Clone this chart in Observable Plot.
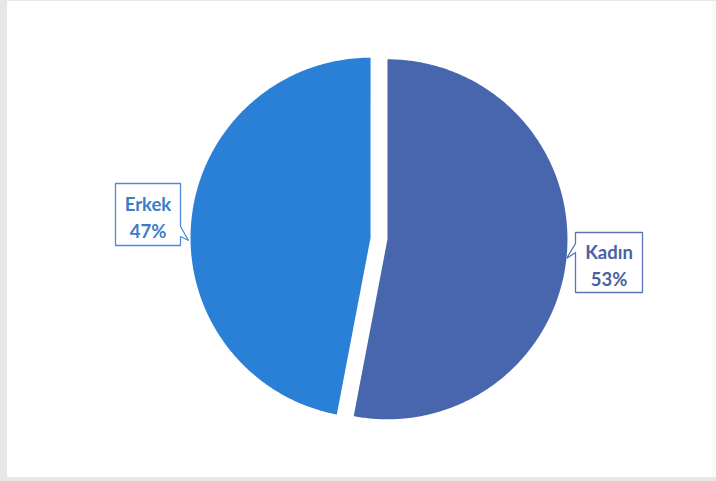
<!DOCTYPE html>
<html>
<head>
<meta charset="utf-8">
<script src="https://cdn.jsdelivr.net/npm/d3@7"></script>
<script src="https://cdn.jsdelivr.net/npm/@observablehq/plot@0.6"></script>
<style>
  html, body { margin: 0; padding: 0; background: #ffffff; }
  #chart svg { display: block; }
</style>
</head>
<body>
<div id="chart"></div>
<script>
// ---- data ----
const categories = ["Kadın", "Erkek"];
const values = [53, 47];
const percentLabels = ["53%", "47%"];
const sliceColors = ["#4866AE", "#2A7FD7"];
const textColors = ["#4A61A4", "#3A7DCB"];
const borderColors = ["#5B74B8", "#4D8BD6"];

// ---- layout ----
const W = 716, H = 481;
const cx = 378.5, cy = 238, R = 180, explode = 8.5;

const arcs = d3.pie().sort(null).value(d => d)(values);

// build slice polygons from the pie angles
const slicePts = [];
arcs.forEach((a, i) => {
  const mid = (a.startAngle + a.endAngle) / 2;
  const ox = cx + explode * Math.sin(mid);
  const oy = cy - explode * Math.cos(mid);
  slicePts.push({cat: categories[i], x: ox, y: oy});
  const n = Math.ceil((a.endAngle - a.startAngle) / (Math.PI / 360));
  for (let k = 0; k <= n; k++) {
    const t = a.startAngle + (a.endAngle - a.startAngle) * k / n;
    slicePts.push({cat: categories[i], x: ox + R * Math.sin(t), y: oy - R * Math.cos(t)});
  }
  slicePts.push({cat: categories[i], x: ox, y: oy});
});

// callout boxes (layout): [left, top, right, bottom], pointer on side
const boxes = [
  {cat: "Kadın", l: 575, t: 232, r: 642, b: 292, side: "left", p1: 243, tip: [566, 258], p2: 252},
  {cat: "Erkek", l: 115, t: 183, r: 180, b: 245, side: "right", p1: 226, tip: [188, 240], p2: 236}
];
const boxPts = [];
boxes.forEach(bx => {
  const pts = [];
  if (bx.side === "left") {
    pts.push([bx.l, bx.t], [bx.r, bx.t], [bx.r, bx.b], [bx.l, bx.b], [bx.l, bx.p2], bx.tip, [bx.l, bx.p1], [bx.l, bx.t]);
  } else {
    pts.push([bx.l, bx.t], [bx.r, bx.t], [bx.r, bx.p1], bx.tip, [bx.r, bx.p2], [bx.r, bx.b], [bx.l, bx.b], [bx.l, bx.t]);
  }
  pts.forEach(p => boxPts.push({cat: bx.cat, x: p[0], y: p[1]}));
});

const labelData = categories.map((c, i) => {
  const bx = boxes.find(b => b.cat === c);
  return {cat: c, text: c + "\n" + percentLabels[i], x: (bx.l + bx.r) / 2, y: (bx.t + bx.b) / 2 + 1};
});

const chart = Plot.plot({
  width: W,
  height: H,
  margin: 0,
  x: {domain: [0, W], range: [0, W], axis: null},
  y: {domain: [0, H], range: [0, H], axis: null},
  style: {background: "#e7e7e7", fontFamily: "Lato, 'Open Sans', sans-serif"},
  marks: [
    Plot.rect([{x1: 7, x2: W, y1: 1, y2: 477}], {x1: "x1", x2: "x2", y1: "y1", y2: "y2", fill: "#ffffff"}),
    Plot.rect([{x1: 712, x2: W, y1: 1, y2: 477}], {x1: "x1", x2: "x2", y1: "y1", y2: "y2", fill: "#fafafa"}),
    Plot.line(slicePts.filter(d => d.cat === categories[0]), {x: "x", y: "y", fill: sliceColors[0], stroke: "none", curve: "linear"}),
    Plot.line(slicePts.filter(d => d.cat === categories[1]), {x: "x", y: "y", fill: sliceColors[1], stroke: "none", curve: "linear"}),
    ...boxes.map(bx => Plot.line(boxPts.filter(d => d.cat === bx.cat), {
      x: "x", y: "y", fill: "#ffffff", stroke: borderColors[categories.indexOf(bx.cat)], strokeWidth: 1.3, strokeLinejoin: "miter"
    })),
    ...labelData.map(d => Plot.text([d], {
      x: "x", y: "y", text: "text", fill: textColors[categories.indexOf(d.cat)],
      fontSize: 18.5, fontWeight: "bold", lineHeight: 1.5, textAnchor: "middle"
    }))
  ]
});
document.getElementById("chart").appendChild(chart);
</script>
</body>
</html>
